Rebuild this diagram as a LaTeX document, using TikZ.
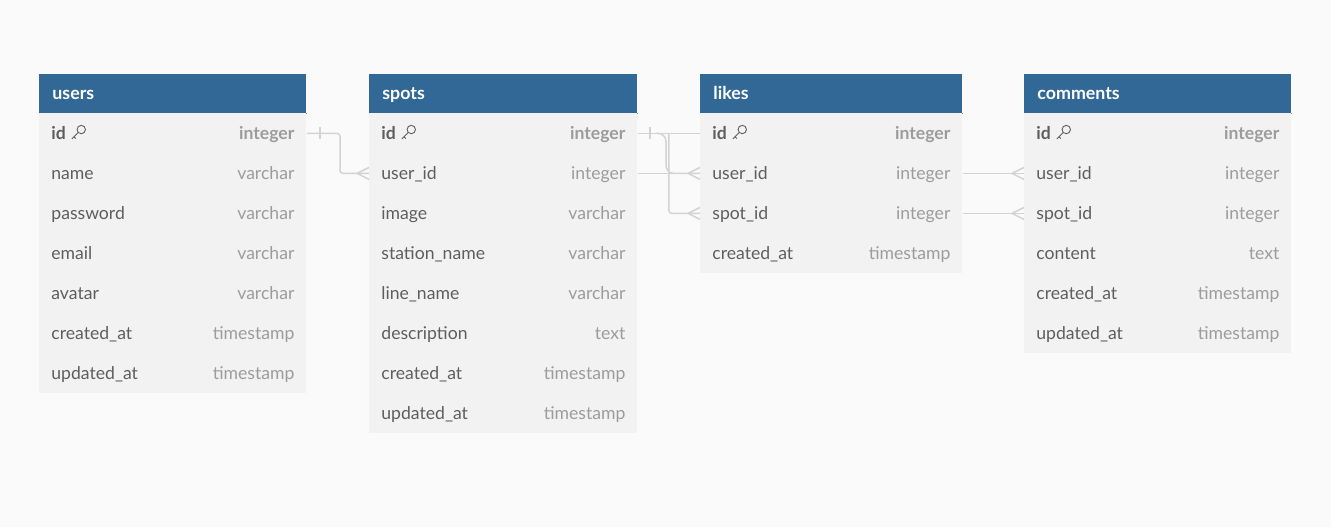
\documentclass[tikz,border=0pt]{standalone}
\usepackage{fontspec}
\setmainfont{Lato}
\usetikzlibrary{positioning}

\definecolor{hdrblue}{HTML}{316896}
\definecolor{hdredge}{HTML}{6A93B8}
\definecolor{rowgray}{HTML}{F2F2F2}
\definecolor{bggray}{HTML}{FAFAFA}
\definecolor{fieldgray}{HTML}{5E5E5E}
\definecolor{typegray}{HTML}{9C9C9C}
\definecolor{linkgray}{HTML}{D3D3D3}

\tikzset{
  hdrbox/.style={anchor=north west, fill=hdrblue, minimum height=19.5pt, inner sep=0pt},
  hdrtext/.style={anchor=base west, inner sep=0pt, text=white, font=\bfseries\fontsize{8.9}{10}\selectfont},
  rowbox/.style={anchor=north west, fill=rowgray, minimum height=20pt, inner sep=0pt},
  fieldtext/.style={anchor=base west, inner sep=0pt, text=fieldgray, font=\fontsize{8.8}{10}\selectfont},
  typetext/.style={anchor=base east, inner sep=0pt, text=typegray, font=\fontsize{8.8}{10}\selectfont},
  link/.style={draw=linkgray, line width=0.75pt},
  keyicon/.pic={
    \draw[fieldgray, line width=0.45pt] (1.5pt,1.5pt) circle (2.1pt);
    \draw[fieldgray, line width=0.45pt] (0pt,0pt) -- (-3.2pt,-3.2pt)
      (-2.1pt,-2.1pt) -- (-1.2pt,-3.0pt);
  }
}

% kopf und zeilen einer tabelle
\newcommand{\tblhead}[5]{%
  \node[hdrbox, minimum width=#4] (#1) at (#2,#3) {};
  \draw[hdredge, line width=0.5pt] (#1.south west) -- (#1.south east);
  \node[hdrtext] (#1-title) at ([xshift=6.5pt,yshift=-3pt]#1.west) {#5};
}
\newcommand{\tblrow}[6]{%
  \node[rowbox, minimum width=#4] (#1) at (#2,#3) {};
  \node[fieldtext] (#1-f) at ([xshift=6pt,yshift=-3pt]#1.west) {#5};
  \node[typetext] (#1-t) at ([xshift=-6pt,yshift=-3pt]#1.east) {#6};
}
\newcommand{\crowfoot}[1]{%
  \draw[link] ([xshift=-6pt]#1.west) -- ([yshift=3pt]#1.west)
              ([xshift=-6pt]#1.west) -- ([yshift=-3pt]#1.west);
}

\begin{document}
\begin{tikzpicture}[x=0.5pt, y=-0.5pt]
  \fill[bggray] (0,0) rectangle (1331,527);
  \useasboundingbox (0,0) rectangle (1331,527);

  % users
  \tblhead{users}{39}{74}{133.5pt}{users}
  \tblrow{users-id}{39}{113}{133.5pt}{\bfseries id}{\bfseries integer}
  \tblrow{users-name}{39}{153}{133.5pt}{name}{varchar}
  \tblrow{users-password}{39}{193}{133.5pt}{password}{varchar}
  \tblrow{users-email}{39}{233}{133.5pt}{email}{varchar}
  \tblrow{users-avatar}{39}{273}{133.5pt}{avatar}{varchar}
  \tblrow{users-createdat}{39}{313}{133.5pt}{created\_at}{timestamp}
  \tblrow{users-updatedat}{39}{353}{133.5pt}{updated\_at}{timestamp}
  \pic at ([xshift=6pt,yshift=0.2pt]users-id-f.east) {keyicon};

  % spots
  \tblhead{spots}{369}{74}{134pt}{spots}
  \tblrow{spots-id}{369}{113}{134pt}{\bfseries id}{\bfseries integer}
  \tblrow{spots-userid}{369}{153}{134pt}{user\_id}{integer}
  \tblrow{spots-image}{369}{193}{134pt}{image}{varchar}
  \tblrow{spots-station}{369}{233}{134pt}{station\_name}{varchar}
  \tblrow{spots-line}{369}{273}{134pt}{line\_name}{varchar}
  \tblrow{spots-desc}{369}{313}{134pt}{description}{text}
  \tblrow{spots-createdat}{369}{353}{134pt}{created\_at}{timestamp}
  \tblrow{spots-updatedat}{369}{393}{134pt}{updated\_at}{timestamp}
  \pic at ([xshift=6pt,yshift=0.2pt]spots-id-f.east) {keyicon};

  % likes
  \tblhead{likes}{700}{74}{131pt}{likes}
  \tblrow{likes-id}{700}{113}{131pt}{\bfseries id}{\bfseries integer}
  \tblrow{likes-userid}{700}{153}{131pt}{user\_id}{integer}
  \tblrow{likes-spotid}{700}{193}{131pt}{spot\_id}{integer}
  \tblrow{likes-createdat}{700}{233}{131pt}{created\_at}{timestamp}
  \pic at ([xshift=6pt,yshift=0.2pt]likes-id-f.east) {keyicon};

  % comments
  \tblhead{comments}{1024}{74}{133.5pt}{comments}
  \tblrow{comments-id}{1024}{113}{133.5pt}{\bfseries id}{\bfseries integer}
  \tblrow{comments-userid}{1024}{153}{133.5pt}{user\_id}{integer}
  \tblrow{comments-spotid}{1024}{193}{133.5pt}{spot\_id}{integer}
  \tblrow{comments-content}{1024}{233}{133.5pt}{content}{text}
  \tblrow{comments-createdat}{1024}{273}{133.5pt}{created\_at}{timestamp}
  \tblrow{comments-updatedat}{1024}{313}{133.5pt}{updated\_at}{timestamp}
  \pic at ([xshift=6pt,yshift=0.2pt]comments-id-f.east) {keyicon};

  % beziehungen
  \draw[link, rounded corners=1.5pt] (users-id.east) -| ([xshift=-14.5pt]spots-userid.west) -- (spots-userid.west);
  \draw[link] ([xshift=6.5pt,yshift=3pt]users-id.east) -- ++(0,-6pt);
  \crowfoot{spots-userid}

  \draw[link] (spots-id.east) -- (likes-id.west);
  \draw[link] ([xshift=6pt,yshift=3pt]spots-id.east) -- ++(0,-6pt);
  \draw[link, rounded corners=4pt] ([xshift=9pt]spots-id.east) -| ([xshift=-17pt]likes-userid.west) -- (likes-userid.west);
  \draw[link, rounded corners=1.5pt] ([xshift=15.5pt]spots-id.east) |- (likes-spotid.west);
  \draw[link] (spots-userid.east) -- (likes-userid.west);
  \crowfoot{likes-userid}
  \crowfoot{likes-spotid}

  \draw[link] (likes-userid.east) -- (comments-userid.west);
  \draw[link] (likes-spotid.east) -- (comments-spotid.west);
  \crowfoot{comments-userid}
  \crowfoot{comments-spotid}
\end{tikzpicture}
\end{document}
